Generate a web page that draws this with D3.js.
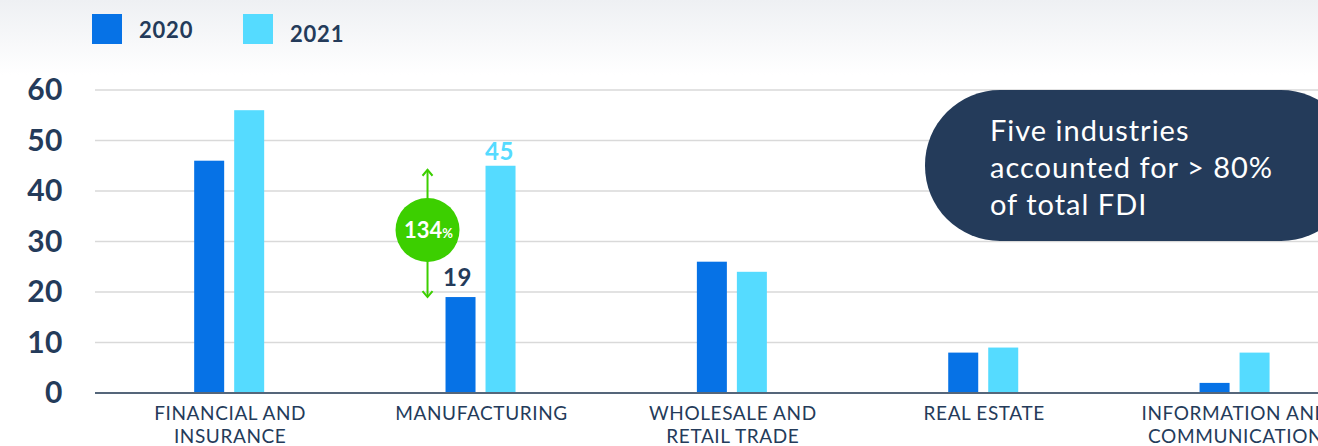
<!DOCTYPE html>
<html>
<head>
<meta charset="utf-8">
<script src="https://cdn.jsdelivr.net/npm/d3@7"></script>
<style>
  html, body { margin: 0; padding: 0; background: #fff; }
  svg { display: block; }
</style>
</head>
<body>
<svg id="svg"></svg>
<script>
// data
const categories = [
  ['FINANCIAL AND', 'INSURANCE'],
  ['MANUFACTURING'],
  ['WHOLESALE AND', 'RETAIL TRADE'],
  ['REAL ESTATE'],
  ['INFORMATION AND', 'COMMUNICATION']
]
const years = ['2020', '2021']
const values2020 = [46, 19, 26, 8, 2]
const values2021 = [56, 45, 24, 9, 8]
const yTicks = [0, 10, 20, 30, 40, 50, 60]
const callout = ['Five industries', 'accounted for > 80%', 'of total FDI']
const growthLabel = '134'

const W = 1318, H = 446
const navy = '#243b5a'
const colors = { '2020': '#0672e6', '2021': '#55dbff' }

let svg = d3.select('#svg').attr('width', W).attr('height', H)

// faint shading at the top
let defs = svg.append('defs')
let grad = defs.append('linearGradient').attr('id', 'topShade')
  .attr('x1', 0).attr('y1', 0).attr('x2', 0).attr('y2', 1)
grad.append('stop').attr('offset', '0%').attr('stop-color', '#eef0f3')
grad.append('stop').attr('offset', '100%').attr('stop-color', '#ffffff')
svg.append('rect').attr('width', W).attr('height', 75).attr('fill', 'url(#topShade)')

// scales
let names = categories.map(c => c.join(' '))
let x = d3.scaleBand().domain(names).range([103.5, 1360.25])
let xSub = d3.scaleBand().domain(years).range([-35, 35]).paddingInner(0.25)
let y = d3.scaleLinear().domain([0, 60]).range([393, 90])

// gridlines
svg.append('g')
  .selectAll('line')
  .data(yTicks.filter(t => t > 0))
  .join('line')
  .attr('x1', 95).attr('x2', W)
  .attr('y1', d => y(d)).attr('y2', d => y(d))
  .attr('stroke', '#d9d9d9').attr('stroke-width', 1.5)

// y labels
svg.append('g')
  .selectAll('text')
  .data(yTicks)
  .join('text')
  .attr('x', 63)
  .attr('y', d => y(d) + 10)
  .attr('text-anchor', 'end')
  .attr('font-family', 'Lato, sans-serif')
  .attr('font-weight', 700)
  .attr('font-size', 30)
  .attr('letter-spacing', 0.5)
  .attr('fill', navy)
  .text(d => d)

// bars
let rows = names.map((n, i) => ({ name: n, '2020': values2020[i], '2021': values2021[i] }))
let groups = svg.append('g')
  .selectAll('g')
  .data(rows)
  .join('g')
  .attr('transform', d => `translate(${x(d.name) + x.bandwidth() / 2},0)`)

groups.selectAll('rect')
  .data(d => years.map(yr => ({ year: yr, value: d[yr] })))
  .join('rect')
  .attr('x', d => xSub(d.year))
  .attr('width', xSub.bandwidth())
  .attr('y', d => y(d.value))
  .attr('height', d => y(0) - y(d.value))
  .attr('fill', d => colors[d.year])

// baseline
svg.append('line')
  .attr('x1', 95).attr('x2', W)
  .attr('y1', y(0)).attr('y2', y(0))
  .attr('stroke', '#55667a').attr('stroke-width', 2)

// category labels
let catG = svg.append('g')
  .selectAll('text')
  .data(categories)
  .join('text')
  .attr('x', (d, i) => x(names[i]) + x.bandwidth() / 2 + 1)
  .attr('y', 420)
  .attr('text-anchor', 'middle')
  .attr('font-family', 'Lato, sans-serif')
  .attr('font-size', 19)
  .attr('letter-spacing', 0.6)
  .attr('fill', navy)
catG.selectAll('tspan')
  .data(d => d)
  .join('tspan')
  .attr('x', function () { return d3.select(this.parentNode).attr('x') })
  .attr('dy', (d, i) => i === 0 ? 0 : 23)
  .text(d => d)

// legend
let legend = svg.append('g')
years.forEach((yr, i) => {
  let lx = 92 + i * 151
  legend.append('rect').attr('x', lx).attr('y', 14).attr('width', 30).attr('height', 30)
    .attr('fill', colors[yr])
  legend.append('text').attr('x', lx + 47).attr('y', 38 + i * 4)
    .attr('font-family', 'Lato, sans-serif').attr('font-weight', 700)
    .attr('font-size', 22).attr('letter-spacing', 0.8).attr('fill', navy).text(yr)
})

// value labels on manufacturing
let mfg = names[1]
let mx = x(mfg) + x.bandwidth() / 2
svg.append('text')
  .attr('x', mx + xSub('2020') + xSub.bandwidth() / 2 - 3)
  .attr('y', y(values2020[1]) - 11)
  .attr('text-anchor', 'middle')
  .attr('font-family', 'Lato, sans-serif').attr('font-weight', 700)
  .attr('font-size', 24).attr('letter-spacing', 0.5).attr('fill', navy)
  .text(values2020[1])
svg.append('text')
  .attr('x', mx + xSub('2021') + xSub.bandwidth() / 2 - 1)
  .attr('y', y(values2021[1]) - 6)
  .attr('text-anchor', 'middle')
  .attr('font-family', 'Lato, sans-serif').attr('font-weight', 700)
  .attr('font-size', 24).attr('letter-spacing', 0.5).attr('fill', colors['2021'])
  .text(values2021[1])

// growth arrow + badge
let green = '#3ccf00'
let ax = mx - 53
let ann = svg.append('g')
ann.append('line').attr('x1', ax).attr('x2', ax)
  .attr('y1', y(values2021[1]) + 4).attr('y2', y(values2020[1]))
  .attr('stroke', green).attr('stroke-width', 2)
;[[y(values2021[1]) + 4, 1], [y(values2020[1]), -1]].forEach(([py, dir]) => {
  ann.append('path')
    .attr('d', `M${ax - 5},${py + dir * 6}L${ax},${py}L${ax + 5},${py + dir * 6}`)
    .attr('fill', 'none').attr('stroke', green).attr('stroke-width', 2)
})
ann.append('circle').attr('cx', ax).attr('cy', 230).attr('r', 32).attr('fill', green)
let badge = ann.append('text').attr('x', ax + 1).attr('y', 238)
  .attr('text-anchor', 'middle')
  .attr('font-family', 'Lato, sans-serif').attr('font-weight', 700).attr('fill', '#fff')
badge.append('tspan').attr('font-size', 22).text(growthLabel)
badge.append('tspan').attr('font-size', 13).text('%')

// callout pill
let co = svg.append('g')
co.append('rect').attr('x', 925).attr('y', 90).attr('width', 431).attr('height', 151)
  .attr('rx', 75).attr('ry', 75).attr('fill', '#243b5a')
co.selectAll('text')
  .data(callout)
  .join('text')
  .attr('x', 990)
  .attr('y', (d, i) => 141 + i * 37)
  .attr('font-family', 'Lato, sans-serif')
  .attr('font-size', 29)
  .attr('letter-spacing', 1)
  .attr('fill', '#fff')
  .text(d => d)
</script>
</body>
</html>
